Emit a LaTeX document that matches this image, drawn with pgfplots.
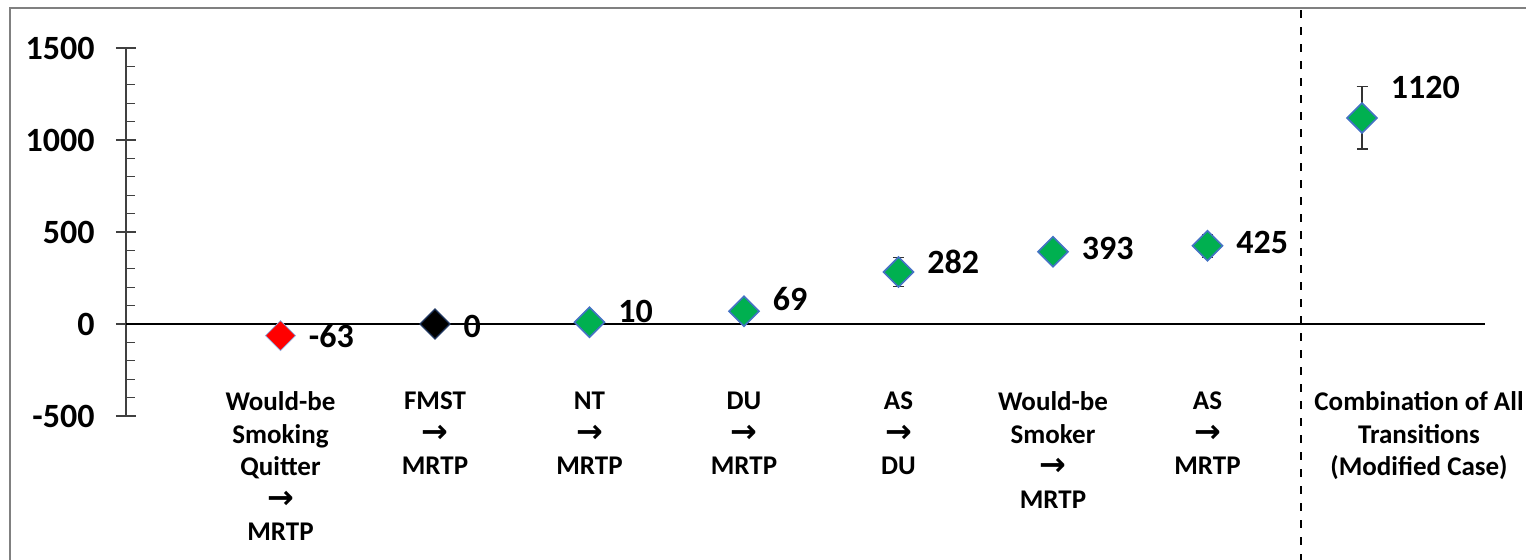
\documentclass[border=0pt]{standalone}
\usepackage{pgfplots}
\pgfplotsset{compat=1.18}
\usepackage{pgfplotstable}
\usepackage{fontspec}
\setmainfont{Carlito}
\newfontfamily\arrowfont{DejaVu Sans}
\newcommand{\arr}{{\arrowfont\bfseries\fontsize{16}{16.25}\selectfont →}}
\definecolor{mgreen}{HTML}{00B050}
\definecolor{medge}{HTML}{4472C4}
\definecolor{mred}{HTML}{FF0000}

\pgfplotstableread{
x y err dy lab
0 -63 0 0 -63
}\redpts
\pgfplotstableread{
x y err dy lab
1 0 0 -1 0
}\blackpts
\pgfplotstableread{
x y err dy lab
2 10 5 5.5 10
3 69 15 6 69
4 282 78 5 282
5 393 30 1.5 393
6 425 62 1.5 425
7 1120 170 15 1120
}\greenpts

\begin{document}
\begin{tikzpicture}
\path[use as bounding box] (-63pt,-72pt) rectangle (700pt,208pt);
\draw[color=black!50, line width=1pt] (-58pt,-80pt) -- (-58pt,204pt) -- (710pt,204pt);
\begin{axis}[
  at={(0pt,0pt)}, anchor=south west,
  scale only axis, width=679.5pt, height=184pt,
  xmin=-1, xmax=7.796, ymin=-500, ymax=1500,
  clip=false,
  axis x line*=bottom, axis y line*=left,
  x axis line style={draw=none},
  y axis line style={draw=black!75, line width=0.75pt, -},
  ytick={-500,0,500,1000,1500},
  minor y tick num=4,
  tick align=center,
  major tick length=10pt,
  minor tick length=4.5pt,
  minor y tick style={xshift=2.25pt},
  y tick style={black!75, line width=0.6pt},
  scaled y ticks=false,
  yticklabel style={font=\fontsize{17}{18}\selectfont\bfseries,
    /pgf/number format/assume math mode=true,
    /pgf/number format/1000 sep={}, anchor=east, inner sep=0pt, xshift=-10.5pt},
  xtick={0,1,2,3,4,5,6},
  xticklabels={{Would-be\\Smoking\\Quitter\\\arr\\MRTP},
    {FMST\\\arr\\MRTP},{NT\\\arr\\MRTP},{DU\\\arr\\MRTP},{AS\\\arr\\DU},
    {Would-be\\Smoker\\\arr\\MRTP},{AS\\\arr\\MRTP}},
  extra x ticks={7},
  extra x tick labels={{Combination of All\\Transitions\\(Modified Case)}},
  extra x tick style={xticklabel style={xshift=28.5pt}},
  x tick style={draw=none},
  xticklabel style={font=\fontsize{13.5}{16.25}\selectfont\bfseries, align=center,
    anchor=north, inner sep=0pt, yshift=17.2pt},
]
\addplot[black, line width=1pt, forget plot] coordinates {(-1,0) (7.796,0)};
\draw[black, line width=1.2pt, dash pattern=on 4pt off 4.5pt] (axis cs:6.605,1705) -- (axis cs:6.605,-1300);

\pgfplotsset{mystyle/.style={only marks, mark=square*, mark size=5.3pt,
    error bars/.cd, y dir=both, y explicit,
    error bar style={black!80, line width=0.7pt},
    error mark options={rotate=90, mark size=2.75pt, black!80, line width=0.7pt},
    /pgfplots/.cd,
    nodes near coords, point meta=explicit symbolic,
    visualization depends on={\thisrow{dy} \as \dy},
    nodes near coords style={font=\fontsize{17}{19}\selectfont\bfseries,
      anchor=west, inner sep=0pt, xshift=14pt, yshift=\dy pt, text=black}}}

\addplot[mystyle, mark options={rotate=45, fill=mred, draw=medge!60, line width=0.4pt}]
  table[x=x, y=y, y error=err, meta=lab] {\redpts};
\addplot[mystyle, mark options={rotate=45, fill=black, draw=medge!50!black, line width=0.6pt}]
  table[x=x, y=y, y error=err, meta=lab] {\blackpts};
\addplot[mystyle, mark options={rotate=45, fill=mgreen, draw=medge, line width=0.8pt}]
  table[x=x, y=y, y error=err, meta=lab] {\greenpts};
\end{axis}
\end{tikzpicture}
\end{document}
